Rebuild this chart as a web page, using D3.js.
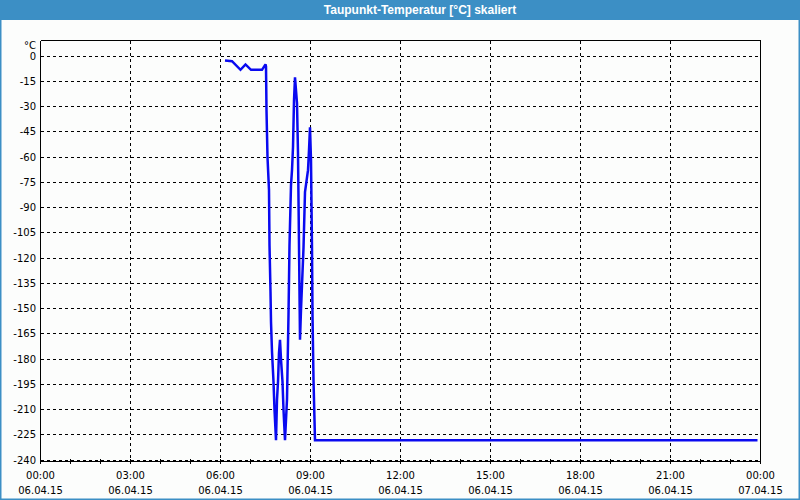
<!DOCTYPE html>
<html>
<head>
<meta charset="utf-8">
<script src="https://cdn.jsdelivr.net/npm/d3@7"></script>
<style>
html,body{margin:0;padding:0;background:#fcfdfc;}
svg{display:block;}
</style>
</head>
<body>
<script>
// ---- data ----
const title = "Taupunkt-Temperatur [°C] skaliert";
const unitLabel = "°C";
const times = ["06:09","06:23","06:40","06:50","07:01","07:23","07:30","07:31","07:32","07:34","07:37","07:38","07:40","07:41","07:43","07:46","07:48","07:51",
  "07:53","07:55","07:57","07:59","08:01","08:04","08:06","08:09",
  "08:13","08:15","08:16","08:18","08:21","08:23","08:25","08:27","08:29",
  "08:33","08:35","08:37","08:39",
  "08:41","08:43","08:46","08:49","08:55","08:57","08:59",
  "09:01","09:03","09:04","09:06","09:09","23:54"];
const values = [-3.0,-3.4,-8.5,-5.3,-8.5,-8.5,-5.3,-6.5,-32.6,-60.4,-80,-112.6,-140.4,-158.2,-176,-193.8,-210.4,-228.5,
  -204.4,-193.8,-176.6,-168.9,-180.7,-193.8,-210.4,-228.5,
  -204.4,-170.7,-154,-112.6,-77,-68.1,-54.5,-26.7,-13,
  -28.4,-58,-112.6,-168.9,
  -151,-136.3,-114.4,-81.2,-68.1,-56.3,-42.7,
  -62.2,-114.4,-154,-192.6,-228.5,-228.5];
const yTicks = [0,-15,-30,-45,-60,-75,-90,-105,-120,-135,-150,-165,-180,-195,-210,-225,-240];
const xTickHours = [0,3,6,9,12,15,18,21,24];
const xTickTimes = ["00:00","03:00","06:00","09:00","12:00","15:00","18:00","21:00","00:00"];
const xTickDates = ["06.04.15","06.04.15","06.04.15","06.04.15","06.04.15","06.04.15","06.04.15","06.04.15","07.04.15"];
const minorHours = d3.range(0, 25, 1);

// ---- layout ----
const W = 800, H = 500;
const svg = d3.select("body").append("svg").attr("width", W).attr("height", H);
const font = "'DejaVu Sans', Verdana, sans-serif";

svg.append("rect").attr("x",0).attr("y",0).attr("width",W).attr("height",H).attr("fill","#fcfdfc");
// window frame
svg.append("rect").attr("x",0.75).attr("y",0.75).attr("width",W-1.5).attr("height",H-1.5)
  .attr("fill","none").attr("stroke","#3c8fc5").attr("stroke-width",1.5);
svg.append("rect").attr("x",0).attr("y",0).attr("width",W).attr("height",20).attr("fill","#3c8fc5");
svg.append("text").attr("x",420).attr("y",10).attr("text-anchor","middle").attr("dominant-baseline","central")
  .attr("fill","#ffffff").attr("font-family","'Liberation Sans', Arial, sans-serif").attr("font-weight","bold")
  .attr("font-size","12px").text(title);

const x = d3.scaleLinear().domain([0,24]).range([40.5,760.5]);
const y = d3.scaleLinear().domain([-240,0]).range([459.5,55.5]);
const parseH = s => { const [h,m] = s.split(":").map(Number); return h + m/60; };

const g = svg.append("g");
// horizontal grid
g.selectAll(".hg").data(yTicks).enter().append("line")
  .attr("x1",40.5).attr("x2",760.5).attr("y1",d=>Math.round(y(d))+0.5).attr("y2",d=>Math.round(y(d))+0.5)
  .attr("stroke","#000").attr("stroke-width",1).attr("stroke-dasharray","3,3").attr("shape-rendering","crispEdges");
// vertical grid
g.selectAll(".vg").data(xTickHours.slice(1,-1)).enter().append("line")
  .attr("x1",d=>x(d)).attr("x2",d=>x(d)).attr("y1",40.5).attr("y2",464)
  .attr("stroke","#000").attr("stroke-width",1).attr("stroke-dasharray","3,3").attr("shape-rendering","crispEdges");
// minor ticks
g.selectAll(".mt").data(minorHours).enter().append("line")
  .attr("x1",d=>x(d)).attr("x2",d=>x(d)).attr("y1",459).attr("y2",464)
  .attr("stroke","#000").attr("stroke-width",1).attr("shape-rendering","crispEdges");
// frame box
const axisY = 461.5;
g.append("path").attr("d",`M40.5,40.5 H760.5 V${axisY+2} M40.5,40.5 V${axisY} H760.5`)
  .attr("fill","none").attr("stroke","#000").attr("stroke-width",1).attr("shape-rendering","crispEdges");

// y labels
g.selectAll(".yl").data(yTicks).enter().append("text")
  .attr("x",36).attr("y",d=>y(d)+0.5).attr("text-anchor","end").attr("dominant-baseline","central")
  .attr("font-family",font).attr("font-size","10px").attr("fill","#000").text(d=>d);
g.append("text").attr("x",36).attr("y",45).attr("text-anchor","end").attr("dominant-baseline","central")
  .attr("font-family",font).attr("font-size","10px").attr("fill","#000").text(unitLabel);
// x labels
g.selectAll(".xl1").data(xTickHours).enter().append("text")
  .attr("x",d=>x(d)).attr("y",475).attr("text-anchor","middle").attr("dominant-baseline","central")
  .attr("font-family",font).attr("font-size","10px").attr("fill","#000").text((d,i)=>xTickTimes[i]);
g.selectAll(".xl2").data(xTickHours).enter().append("text")
  .attr("x",d=>x(d)).attr("y",490).attr("text-anchor","middle").attr("dominant-baseline","central")
  .attr("font-family",font).attr("font-size","10px").attr("fill","#000").text((d,i)=>xTickDates[i]);

// series
const pts = times.map((t,i)=>[parseH(t), values[i]]);
const line = d3.line().x(d=>x(d[0])).y(d=>y(d[1]));
g.append("path").datum(pts).attr("d",line).attr("fill","none")
  .attr("stroke","#0a0af0").attr("stroke-width",2.5).attr("stroke-linejoin","miter").attr("stroke-miterlimit",2);
</script>
</body>
</html>
